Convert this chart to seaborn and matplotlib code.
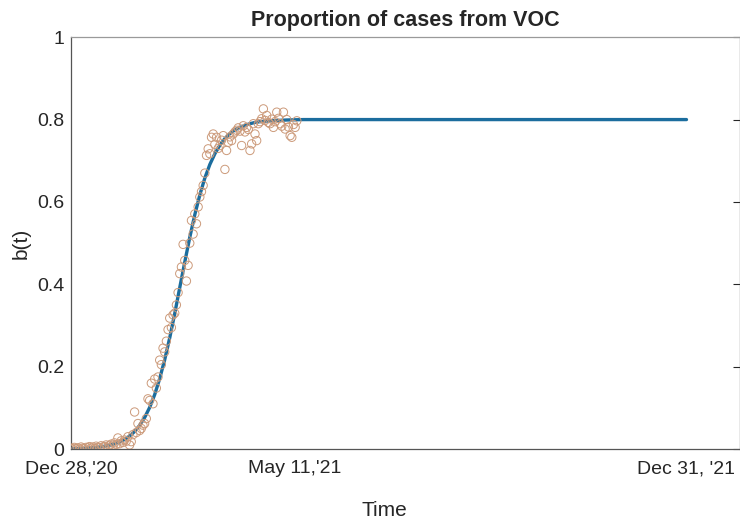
import numpy as np
import pandas as pd
import matplotlib
matplotlib.use('Agg')
import matplotlib.pyplot as plt
import seaborn as sns

# observed proportion, one value per day from Dec 28 2020 (day 0)
obs_day = list(range(0, 136))
obs_val = [
    0.002, 0.000, 0.004, 0.001, 0.003, 0.000, 0.005, 0.002, 0.001, 0.004,
    0.003, 0.006, 0.002, 0.005, 0.001, 0.007, 0.004, 0.003, 0.008, 0.005,
    0.006, 0.010, 0.004, 0.009, 0.012, 0.007, 0.015, 0.011, 0.027, 0.013,
    0.020, 0.016, 0.022, 0.019, 0.030, 0.010, 0.018, 0.035, 0.090, 0.040,
    0.062, 0.045, 0.050, 0.058, 0.062, 0.074, 0.122, 0.118, 0.160, 0.110,
    0.170, 0.148, 0.175, 0.216, 0.205, 0.245, 0.236, 0.262, 0.290, 0.318,
    0.295, 0.326, 0.330, 0.350, 0.380, 0.426, 0.442, 0.497, 0.458, 0.408,
    0.446, 0.500, 0.555, 0.522, 0.571, 0.547, 0.588, 0.612, 0.625, 0.640,
    0.670, 0.713, 0.729, 0.717, 0.757, 0.765, 0.740, 0.757, 0.730, 0.737,
    0.750, 0.761, 0.679, 0.725, 0.745, 0.758, 0.749, 0.765, 0.770, 0.774,
    0.780, 0.772, 0.737, 0.785, 0.770, 0.781, 0.776, 0.725, 0.741, 0.790,
    0.765, 0.749, 0.790, 0.795, 0.802, 0.826, 0.798, 0.810, 0.793, 0.790,
    0.801, 0.781, 0.795, 0.818, 0.803, 0.790, 0.784, 0.818, 0.777, 0.800,
    0.782, 0.761, 0.757, 0.788, 0.781, 0.797,
]

# fitted curve
fit_day = [0, 4, 9, 14, 19, 24, 29, 32, 35, 38, 41, 44, 47, 50, 53, 56, 59,
           62, 65, 68, 71, 74, 77, 80, 83, 86, 89, 92, 95, 98, 101, 104, 107,
           110, 113, 116, 119, 129, 139, 200, 300, 368]
fit_val = [0.0009, 0.0013, 0.0021, 0.0036, 0.0061, 0.0102, 0.0171, 0.0233,
           0.0316, 0.0426, 0.0573, 0.0765, 0.101, 0.132, 0.171, 0.217, 0.270,
           0.329, 0.392, 0.454, 0.514, 0.569, 0.617, 0.658, 0.691, 0.717,
           0.738, 0.754, 0.766, 0.775, 0.781, 0.786, 0.790, 0.793, 0.795,
           0.796, 0.797, 0.799, 0.800, 0.800, 0.800, 0.800]

x_ticks = [0, 134, 368]
x_labels = ["Dec 28,'20", "May 11,'21", "Dec 31, '21"]
y_ticks = [0, 0.2, 0.4, 0.6, 0.8, 1.0]
y_labels = ["0", "0.2", "0.4", "0.6", "0.8", "1"]

sns.set_style('white')
plt.rcParams['font.family'] = ['Liberation Sans', 'DejaVu Sans']

fig = plt.figure(figsize=(7.4, 5.24), dpi=100)
ax = fig.add_axes([0.096, 0.143, 0.904, 0.786])

obs = pd.DataFrame({'day': obs_day, 'b': obs_val})
fit = pd.DataFrame({'day': fit_day, 'b': fit_val})

sns.lineplot(data=fit, x='day', y='b', ax=ax, color='#1b6d9e', linewidth=2.4)
sns.scatterplot(data=obs, x='day', y='b', ax=ax, marker='o', s=36,
                facecolor='none', edgecolor='#cc9a7a', linewidth=0.7,
                zorder=3)

ax.set_xlim(0, 400)
ax.set_ylim(0, 1)
ax.set_xticks(x_ticks)
ax.set_xticklabels(x_labels)
ax.set_yticks(y_ticks)
ax.set_yticklabels(y_labels)
ax.tick_params(direction='in', length=5, width=0.8, colors='#262626',
               labelsize=14, top=False, right=True, pad=5)
ax.tick_params(axis='x', pad=8)
for s in ax.spines.values():
    s.set_color('#555555')
    s.set_linewidth(0.9)
ax.spines['top'].set_color('#9a9a9a')

ax.set_xlabel('Time', fontsize=15, color='#262626', va='center')
ax.xaxis.set_label_coords(0.469, -0.148)
ax.set_ylabel('b(t)', fontsize=15, color='#262626', va='center')
ax.yaxis.set_label_coords(-0.075, 0.5)
ax.set_title('Proportion of cases from VOC', fontsize=15.5, fontweight='bold',
             pad=8)

fig.savefig('out.png', dpi=100)
